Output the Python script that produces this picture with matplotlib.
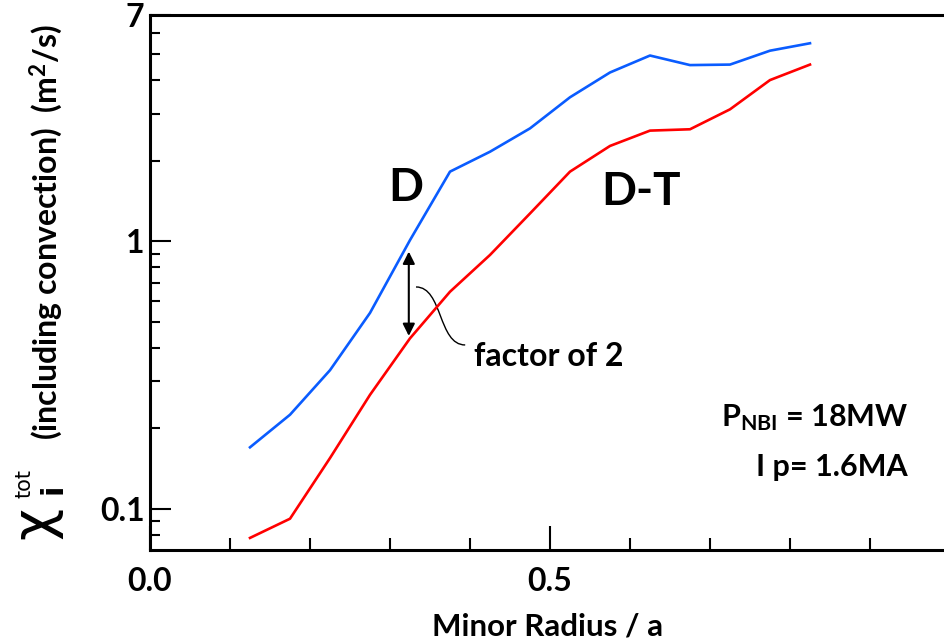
import numpy as np
import matplotlib
matplotlib.use('Agg')
import matplotlib.pyplot as plt
from matplotlib.path import Path
from matplotlib.patches import PathPatch
from matplotlib.ticker import FixedLocator, NullFormatter

plt.rcParams['font.family'] = ['Lato', 'DejaVu Sans']
plt.rcParams['font.weight'] = 'bold'
plt.rcParams['mathtext.fontset'] = 'custom'
plt.rcParams['mathtext.rm'] = 'Lato:bold'
plt.rcParams['mathtext.bf'] = 'Lato:bold'
plt.rcParams['mathtext.it'] = 'Lato:bold:italic'

# minor radius r/a
radius = [0.125, 0.175, 0.225, 0.275, 0.325, 0.375, 0.425, 0.475,
          0.525, 0.575, 0.625, 0.675, 0.725, 0.775, 0.825]
# chi_i total (m^2/s)
chi_d = [0.17, 0.225, 0.33, 0.54, 1.01, 1.82, 2.16, 2.64,
         3.45, 4.27, 4.94, 4.55, 4.57, 5.15, 5.49]
chi_dt = [0.078, 0.092, 0.155, 0.267, 0.434, 0.648, 0.889, 1.27,
          1.82, 2.27, 2.59, 2.62, 3.11, 4.0, 4.57]

x_ticks = [0.0, 0.5]
x_ticklabels = ['0.0', '0.5']
y_ticks = [0.1, 1, 7]
y_ticklabels = ['0.1', '1', '7']

fig = plt.figure(figsize=(9.45, 6.43), dpi=100)
ax = fig.add_axes([150/945, 93/643, 795/945, 535/643])

ax.plot(radius, chi_d, color='#0a5cff', lw=1.9)
ax.plot(radius, chi_dt, color='#ff0000', lw=1.9)

ax.set_yscale('log')
ax.set_xlim(0, 0.99375)
ax.set_ylim(0.0703, 7)

ax.spines['right'].set_visible(False)
for s in ['left', 'bottom', 'top']:
    ax.spines[s].set_linewidth(2.2)

ax.xaxis.set_major_locator(FixedLocator(x_ticks))
ax.set_xticklabels(x_ticklabels)
ax.xaxis.set_minor_locator(FixedLocator(np.arange(0.1, 1.0, 0.1)))
ax.yaxis.set_major_locator(FixedLocator(y_ticks))
ax.set_yticklabels(y_ticklabels)
ax.yaxis.set_minor_locator(FixedLocator([0.08, 0.09, 0.2, 0.3, 0.4, 0.5, 0.6, 0.7, 0.8, 0.9,
                                         2, 3, 4, 5, 6]))
ax.yaxis.set_minor_formatter(NullFormatter())

ax.tick_params(axis='both', which='both', direction='in', width=1.5,
               labelsize=23, top=False, right=False)
ax.tick_params(axis='x', which='major', length=17, pad=12)
ax.tick_params(axis='x', which='minor', length=9)
ax.tick_params(axis='y', which='major', length=15, pad=4)
ax.tick_params(axis='y', which='minor', length=7.5)

ax.set_xlabel('Minor Radius / a', fontsize=22.5, fontweight='bold', labelpad=12)

# y label: chi symbol, its indices and description
fig.text(35/945, 1 - 523/643, 'χ', rotation=90, ha='center', va='center',
         fontsize=40, fontweight='normal', family='DejaVu Sans')
fig.text(25/945, 1 - 484/643, 'tot', rotation=90, ha='center', va='center',
         fontsize=15, fontweight='normal', family='DejaVu Sans')
fig.text(53/945, 1 - 489/643, 'i', rotation=90, ha='center', va='center',
         fontsize=22, fontweight='bold', family='DejaVu Sans')
fig.text(46/945, 1 - 232/643, '(including convection)  (m$^2$/s)', rotation=90,
         ha='center', va='center', fontsize=23, fontweight='bold')

ax.text(0.32, 1.58, 'D', fontsize=33, fontweight='bold', ha='center', va='center')
ax.text(0.614, 1.53, 'D-T', fontsize=33, fontweight='bold', ha='center', va='center')

# factor-of-2 arrow and label
ax.annotate('', xy=(0.3235, 0.443), xytext=(0.3235, 0.915),
            arrowprops=dict(arrowstyle='<|-|>', color='black', lw=1.5,
                            mutation_scale=18, shrinkA=0, shrinkB=0))
verts = [(0.3325, 0.675), (0.366, 0.675), (0.360, 0.41), (0.394, 0.41)]
codes = [Path.MOVETO, Path.CURVE4, Path.CURVE4, Path.CURVE4]
ax.add_patch(PathPatch(Path(verts, codes), facecolor='none', edgecolor='black', lw=1.0))
ax.text(0.405, 0.37, 'factor of 2', fontsize=23, fontweight='bold', ha='left', va='center')

ax.text(0.9475, 0.2187, r'P$_{\mathrm{NBI}}$ = 18MW', fontsize=22, fontweight='bold',
        ha='right', va='center')
ax.text(0.9475, 0.1435, 'I p= 1.6MA', fontsize=22, fontweight='bold',
        ha='right', va='center')

fig.savefig('out.png', dpi=100)
